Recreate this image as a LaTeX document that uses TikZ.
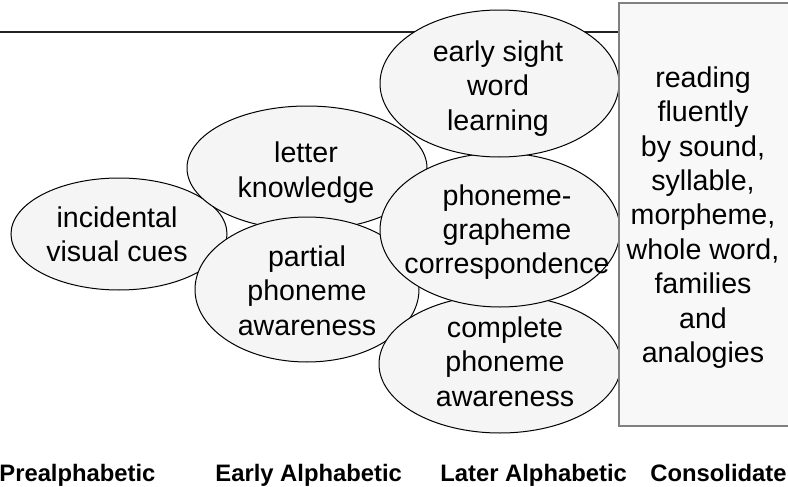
\documentclass[tikz,border=0pt]{standalone}
\usepackage{fontspec}
\setmainfont{Liberation Sans}
\usetikzlibrary{shapes.geometric}

\definecolor{bubblefill}{RGB}{245,245,245}
\definecolor{panelfill}{RGB}{248,248,248}
\definecolor{panelrule}{RGB}{128,128,128}
\definecolor{toprule}{RGB}{34,34,34}

\begin{document}
\begin{tikzpicture}[x=0.5pt,y=-0.5pt,
  bubble/.style={ellipse, draw=black, line width=0.5pt, fill=bubblefill, inner sep=0pt, outer sep=0pt},
  bubbletext/.style={align=center, inner sep=0pt, font=\fontsize{14.3pt}{17.2pt}\selectfont},
  panel/.style={draw=panelrule, line width=1pt, fill=panelfill},
  stage/.style={anchor=base west, inner sep=0pt, font=\fontsize{11.9pt}{14pt}\selectfont\bfseries},
]
\useasboundingbox (0,0) rectangle (788,487);
\clip (0,0) rectangle (788,487);

% horizontal rule across the top
\coordinate (ruleStart) at (0,32);
\coordinate (ruleEnd) at (619,32);
\draw[toprule, line width=0.75pt] (ruleStart) -- (ruleEnd);

% prealphabetic
\node[bubble, minimum width=108pt, minimum height=56pt] (cues) at (119,234) {};
\node[bubbletext] (cuesText) at (117,237.6) {\strut incidental\\visual cues\strut};

% early alphabetic
\node[bubble, minimum width=120pt, minimum height=62pt] (letters) at (307,168) {};
\node[bubbletext] (lettersText) at (306,173.1) {\strut letter\\knowledge\strut};

\node[bubble, minimum width=112pt, minimum height=72.5pt] (partial) at (307,289.5) {};
\node[bubbletext] (partialText) at (307,294.1) {\strut partial\\phoneme\\awareness\strut};

% later alphabetic
\node[bubble, minimum width=121pt, minimum height=69pt] (complete) at (500,364) {};
\node[bubbletext] (completeText) at (505,365.1) {\strut complete\\phoneme\\awareness\strut};

\node[bubble, minimum width=120pt, minimum height=77pt] (corresp) at (500,230) {};
\node[bubbletext] (correspText) at (507,232.6) {\strut phoneme-\\grapheme\\correspondence\strut};

\node[bubble, minimum width=119.5pt, minimum height=73.5pt] (sight) at (499.5,83.5) {};
\node[bubbletext] (sightText) at (498,89.1) {\strut early sight\\word\\learning\strut};

% consolidated stage panel
\draw[panel] (619,3) rectangle (800,426);
\node[bubbletext] (fluentText) at (703,218.1) {\strut reading\\fluently\\by sound,\\syllable,\\morpheme,\\whole word,\\families\\and\\analogies\strut};

% stage labels
\node[stage] (stagePre) at (-1,481) {Prealphabetic};
\node[stage] (stageEarly) at (215,481) {Early Alphabetic};
\node[stage] (stageLater) at (440,481) {Later Alphabetic};
\node[stage] (stageCons) at (650,481) {Consolidate};
\end{tikzpicture}
\end{document}
